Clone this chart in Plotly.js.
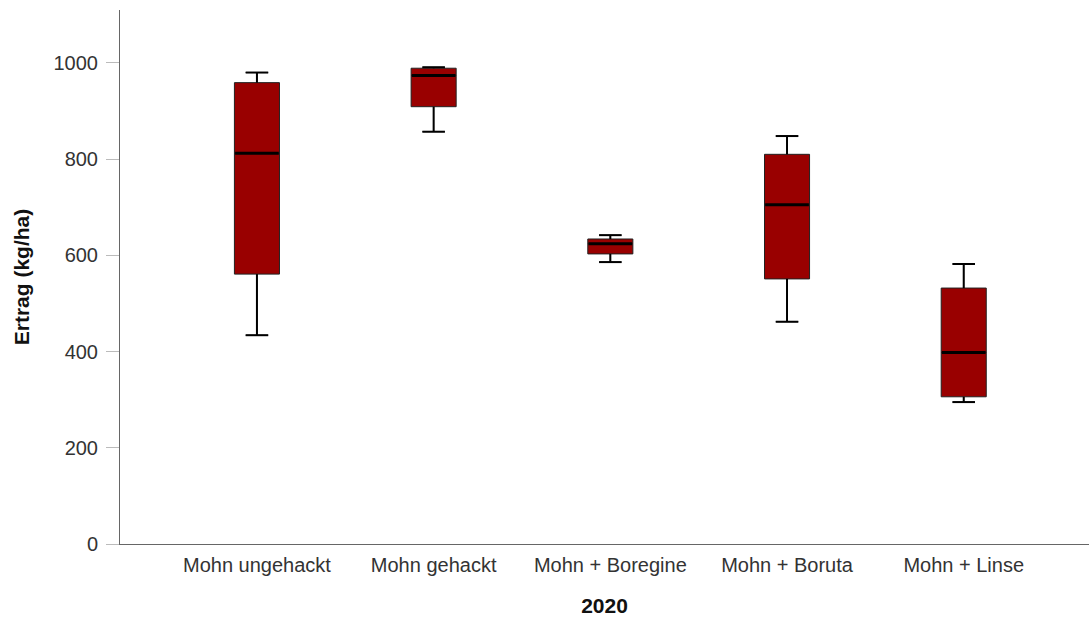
<!DOCTYPE html>
<html>
<head>
<meta charset="utf-8">
<script src="https://cdn.plot.ly/plotly-3.0.1.min.js"></script>
<style>
  html, body { margin: 0; padding: 0; background: #ffffff; }
  #chart { width: 1089px; height: 619px; }
</style>
</head>
<body>
<div id="chart"></div>
<script>
// Ertrag 2020 je Variante (kg/ha): Fünf-Punkte-Zusammenfassung
const categories = ["Mohn ungehackt", "Mohn gehackt", "Mohn + Boregine", "Mohn + Boruta", "Mohn + Linse"];
const lowerWhisker = [434, 857, 586, 462, 295];
const q1Values     = [561, 909, 603, 551, 306];
const medianValues = [812, 974, 624, 705, 398];
const q3Values     = [959, 989, 634, 810, 532];
const upperWhisker = [980, 991, 642, 848, 582];
const yTicks = [0, 200, 400, 600, 800, 1000];

const positions = categories.map((_, i) => i);
const boxWidth = 0.255;
const capHalf = boxWidth / 4;
const medianHalf = boxWidth / 2;

// Box bodies
const boxes = {
  type: "box",
  x: positions,
  q1: q1Values,
  median: medianValues,
  q3: q3Values,
  lowerfence: lowerWhisker,
  upperfence: upperWhisker,
  width: boxWidth,
  whiskerwidth: 0.5,
  fillcolor: "#990000",
  line: { color: "#222222", width: 1 },
  hoverinfo: "skip"
};

// Whiskers with caps, drawn a bit heavier than the box outline
const wx = [], wy = [];
positions.forEach((p, i) => {
  wx.push(p, p, null, p - capHalf, p + capHalf, null);
  wy.push(q3Values[i], upperWhisker[i], null, upperWhisker[i], upperWhisker[i], null);
  wx.push(p, p, null, p - capHalf, p + capHalf, null);
  wy.push(q1Values[i], lowerWhisker[i], null, lowerWhisker[i], lowerWhisker[i], null);
});
const whiskers = {
  type: "scatter", mode: "lines",
  x: wx, y: wy,
  line: { color: "#000000", width: 2 },
  hoverinfo: "skip", connectgaps: false
};

// Median bars
const mx = [], my = [];
positions.forEach((p, i) => {
  mx.push(p - medianHalf + 0.004, p + medianHalf - 0.004, null);
  my.push(medianValues[i], medianValues[i], null);
});
const medians = {
  type: "scatter", mode: "lines",
  x: mx, y: my,
  line: { color: "#000000", width: 3 },
  hoverinfo: "skip", connectgaps: false
};

const font = "Arial, 'Liberation Sans', sans-serif";

const layout = {
  width: 1089, height: 619,
  margin: { l: 120, r: 0, t: 10, b: 75 },
  paper_bgcolor: "#ffffff",
  plot_bgcolor: "#ffffff",
  showlegend: false,
  font: { family: font, color: "#333333" },
  xaxis: {
    type: "linear",
    range: [-0.775, 4.709],
    tickvals: positions,
    ticktext: categories,
    ticks: "",
    showgrid: false,
    zeroline: false,
    showline: true,
    linecolor: "#666666",
    linewidth: 1,
    tickfont: { family: font, size: 20, color: "#333333" },
    ticklabelstandoff: 3,
    title: { text: "<b>2020</b>", font: { family: font, size: 21, color: "#111111" }, standoff: 23 },
    automargin: false
  },
  yaxis: {
    range: [0, 1110],
    tickvals: yTicks,
    ticktext: yTicks.map(String),
    ticks: "outside",
    ticklen: 13,
    tickcolor: "#bbbbbb",
    tickwidth: 1,
    showgrid: false,
    zeroline: false,
    showline: true,
    linecolor: "#666666",
    linewidth: 1,
    tickfont: { family: font, size: 20, color: "#333333" },
    ticklabelstandoff: 4,
    title: { text: "<b>Ertrag (kg/ha)</b>", font: { family: font, size: 21, color: "#111111" }, standoff: 18 },
    automargin: false
  }
};

Plotly.newPlot("chart", [boxes, whiskers, medians], layout, { displayModeBar: false, staticPlot: true });
</script>
</body>
</html>
